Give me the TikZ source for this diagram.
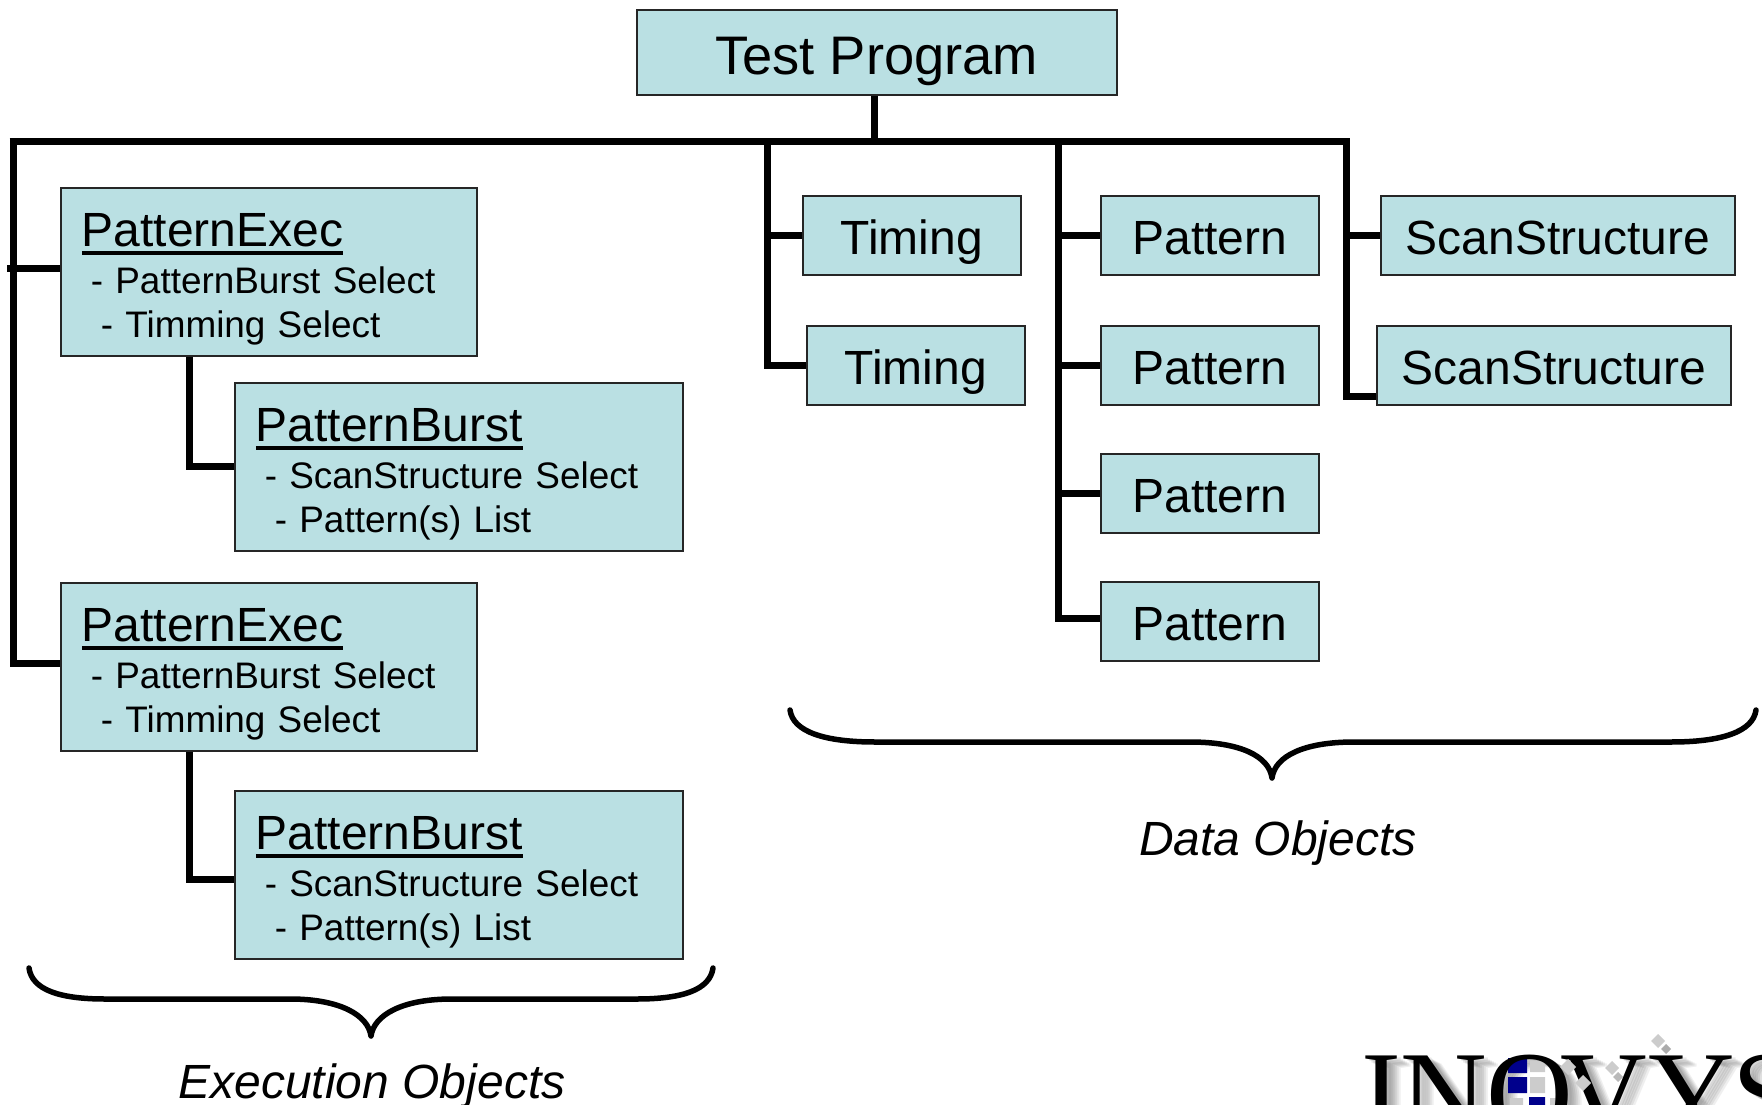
\documentclass[tikz,border=0pt]{standalone}
\usepackage{fontspec}
\setmainfont{Liberation Sans}
\newfontfamily\logofont{Liberation Serif}
\definecolor{boxfill}{RGB}{186,224,227}
\newcommand{\titleul}[1]{\setbox0=\hbox{#1}\rlap{\rule[-9pt]{\wd0}{4pt}}\box0}
\newcommand{\boxtext}[3]{{\fontsize{48}{48}\selectfont\titleul{#1}\rule{0pt}{54pt}}\\[3pt]\hspace*{9pt}#2\\\hspace*{19pt}#3\rule[-14pt]{0pt}{14pt}}
\tikzset{
  x=1pt,y=-1pt,
  objbox/.style={draw=black!85,line width=1.6pt,fill=boxfill,rectangle,inner sep=0pt,anchor=north west},
  simplebox/.style={objbox,font=\fontsize{48}{56}\selectfont,text height=45pt,text depth=6pt},
  titlebox/.style={objbox,font=\fontsize{54.3}{60}\selectfont,text height=50pt,text depth=6pt},
  listbox/.style={objbox,inner xsep=21pt,inner ysep=0pt,align=left,minimum height=168pt,font=\fontsize{36.9}{44}\selectfont},
  conn/.style={line width=7pt,draw=black,line cap=butt,line join=miter},
  bracepath/.style={line width=5.5pt,draw=black,line cap=round,line join=round},
  caption/.style={font=\fontsize{48}{50}\selectfont\itshape,anchor=base},
  logoletter/.style={font=\fontsize{120}{120}\selectfont\logofont,anchor=base west,inner sep=0pt,text=black},
  logoshadow/.style={font=\fontsize{120}{120}\selectfont\logofont,anchor=base west,inner sep=0pt,text=black!60},
  logoblue/.style={fill=blue!55!black,draw=none},
  logogray/.style={fill=black!20,draw=none},
}
\begin{document}
\begin{tikzpicture}
\useasboundingbox (0,0) rectangle (1762,1105);
\clip (0,0) rectangle (1762,1105);
% boxes
\node[titlebox,minimum width=480pt,minimum height=85pt] (tp) at (636,9) {Test Program};
\node[listbox,text width=374pt] (pe1) at (60,187) {\boxtext{PatternExec}{- PatternBurst Select}{- Timming Select}};
\node[listbox,text width=406pt] (pb1) at (234,382) {\boxtext{PatternBurst}{- ScanStructure Select}{- Pattern(s) List}};
\node[listbox,text width=374pt] (pe2) at (60,582) {\boxtext{PatternExec}{- PatternBurst Select}{- Timming Select}};
\node[listbox,text width=406pt] (pb2) at (234,790) {\boxtext{PatternBurst}{- ScanStructure Select}{- Pattern(s) List}};
\node[simplebox,minimum width=218pt,minimum height=79pt] (t1) at (802,195) {Timing};
\node[simplebox,minimum width=218pt,minimum height=79pt] (t2) at (806,325) {Timing};
\node[simplebox,minimum width=218pt,minimum height=79pt] (p1) at (1100,195) {Pattern};
\node[simplebox,minimum width=218pt,minimum height=79pt] (p2) at (1100,325) {Pattern};
\node[simplebox,minimum width=218pt,minimum height=79pt] (p3) at (1100,453) {Pattern};
\node[simplebox,minimum width=218pt,minimum height=79pt] (p4) at (1100,581) {Pattern};
\node[simplebox,minimum width=354pt,minimum height=79pt] (s1) at (1380,195) {ScanStructure};
\node[simplebox,minimum width=354pt,minimum height=79pt] (s2) at (1376,325) {ScanStructure};
% rails
\coordinate (busl) at (13,142);
\coordinate (busr) at (1346,142);
\coordinate (railt) at (767,142);
\coordinate (railp) at (1058,142);
\coordinate (peone) at (7,268);
\coordinate (petwo) at (13,663);
\coordinate (pbtwo) at (189,879);
\coordinate (ptwo) at (1058,618);
\coordinate (stwo) at (1346,396);
% connectors
\draw[conn] (tp.south -| 874,0) -- (874,142);
\draw[conn] ([xshift=-3.5pt]busl) -- ([xshift=3.5pt]busr);
\draw[conn] (busl) -- (petwo) -- (petwo -| pe2.west);
\draw[conn] (peone) -- (peone -| pe1.west);
\draw[conn] (pe1.south -| 189,0) |- (pb1.west);
\draw[conn] (pe2.south -| 189,0) -- (pbtwo) -- (pbtwo -| pb2.west);
\draw[conn] (railt) |- (t2.west);
\draw[conn] (t1.west) -- (t1.west -| railt);
\draw[conn] (railp) -- (ptwo) -- (ptwo -| p4.west);
\draw[conn] (p1.west) -- (p1.west -| railp);
\draw[conn] (p2.west) -- (p2.west -| railp);
\draw[conn] (p3.west) -- (p3.west -| railp);
\draw[conn] (busr) -- (stwo) -- (stwo -| s2.west);
\draw[conn] (s1.west) -- (s1.west -| busr);
% braces
\draw[bracepath] (29,968) .. controls (32,990) and (60,999) .. (105,999) -- (290,999) .. controls (340,999) and (368,1015) .. (371,1036) .. controls (374,1015) and (402,999) .. (452,999) -- (637,999) .. controls (682,999) and (710,990) .. (713,968);
\draw[bracepath] (790,710) .. controls (793,732) and (825,742) .. (875,742) -- (1190,742) .. controls (1240,742) and (1269,756) .. (1272,778) .. controls (1275,756) and (1304,742) .. (1354,742) -- (1671,742) .. controls (1721,742) and (1753,732) .. (1756,710);
\node[caption] (exec) at (372,1098) {Execution Objects};
\node[caption] (data) at (1278,855) {Data Objects};
% logo
\foreach \ox/\oy/\op in {14/8/.10,12/7/.12,10/6/.14,8/5/.14,6/4/.14,4/2/.14}{
  \node[logoshadow,opacity=\op] at (1361+\ox,1134+\oy) {I};
  \node[logoshadow,opacity=\op] at (1400+\ox,1134+\oy) {N};
  \node[logoshadow,opacity=\op] at (1486+\ox,1134+\oy) {O};
  \node[logoshadow,opacity=\op] at (1560+\ox,1134+\oy) {V};
  \node[logoshadow,opacity=\op] at (1648+\ox,1134+\oy) {Y};
  \node[logoshadow,opacity=\op] at (1732+\ox,1134+\oy) {S};
}
\fill[logoblue] (1508,1058) rectangle (1527,1073) (1508,1077) rectangle (1527,1093) (1529,1097) rectangle (1545,1105);
\fill[logogray] (1530,1061) rectangle (1545,1072) (1530,1077) rectangle (1545,1093) (1510,1098) rectangle (1523,1105) (1550,1098) rectangle (1562,1105);
\node[logoletter] (li) at (1361,1134) {I};
\node[logoletter] (ln) at (1400,1134) {N};
\node[logoletter] (lo) at (1486,1134) {O};
\node[logoletter] (lv) at (1560,1134) {V};
\node[logoletter] (ly) at (1648,1134) {Y};
\node[logoletter] (ls) at (1732,1134) {S};
\fill[black!55,opacity=.6] (1666,1049) +(-5,0) -- +(0,-5) -- +(5,0) -- +(0,5) -- cycle;
\fill[black!55,opacity=.5] (1618,1077) +(-5,0) -- +(0,-5) -- +(5,0) -- +(0,5) -- cycle;
\fill[logogray] (1658,1041) +(-7,0) -- +(0,-7) -- +(7,0) -- +(0,7) -- cycle;
\fill[logogray] (1568,1067) +(-8,0) -- +(0,-8) -- +(8,0) -- +(0,8) -- cycle;
\fill[logogray] (1583,1083) +(-8,0) -- +(0,-8) -- +(8,0) -- +(0,8) -- cycle;
\fill[logogray] (1612,1068) +(-7,0) -- +(0,-7) -- +(7,0) -- +(0,7) -- cycle;
\end{tikzpicture}
\end{document}
